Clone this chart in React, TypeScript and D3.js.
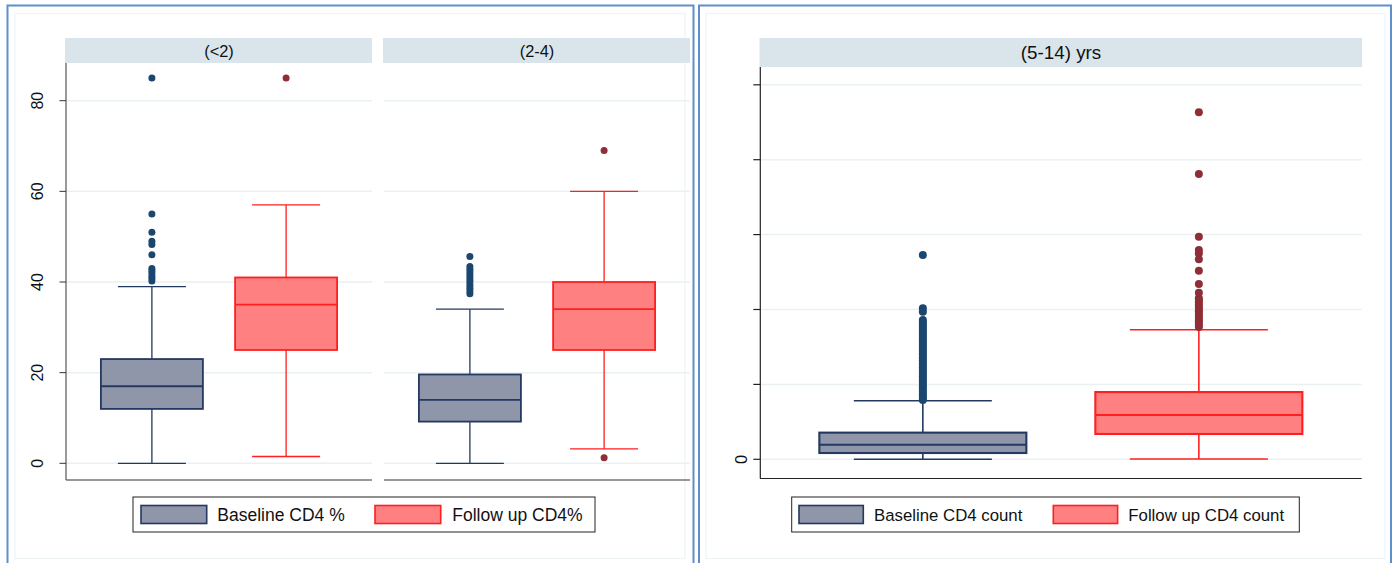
import React from "react";
import * as d3 from "d3";

// CD4 % panel, two age facets
const facetsLeft = ["(<2)", "(2-4)"];
const seriesLeft = ["Baseline CD4 %", "Follow up CD4%"];
const pctTicks = [0, 20, 40, 60, 80];

// [lower whisker, q1, median, q3, upper whisker]
const lt2Baseline = [0, 12, 17, 23, 39];
const lt2BaselineOut = [85, 55, 51, 49, 48.3, 46, 43, 42.5, 42, 41.3, 40.8, 40.2];
const lt2Follow = [1.5, 25, 35, 41, 57];
const lt2FollowOut = [85];

const b24Baseline = [0, 9.2, 14, 19.6, 34];
const b24BaselineOut = [45.6, 43.4, 42.8, 42.2, 41.6, 41, 40.4, 39.8, 39.2, 38.6, 38, 37.4];
const b24Follow = [3.2, 25, 34, 40, 60];
const b24FollowOut = [69, 1.2];

// CD4 count panel, (5-14) yrs
const facetRight = "(5-14) yrs";
const seriesRight = ["Baseline CD4 count", "Follow up CD4 count"];
const countTicks = [0, 500, 1000, 1500, 2000, 2500];
const countTickLabels = ["0", "", "", "", "", ""];

const oldBaseline = [0, 42, 97, 178, 391];
const oldBaselineOut = [
  1364, 1008, 985, 930, 915, 900, 885, 870, 855, 840, 825, 810, 795, 780, 765, 750, 735,
  720, 705, 690, 675, 660, 645, 630, 615, 600, 585, 570, 555, 540, 525, 510, 495, 480,
  465, 450, 435, 420, 405, 396,
];
const oldFollow = [2, 169, 296, 449, 865];
const oldFollowOut = [
  2317, 1904, 1486, 1397, 1375, 1335, 1259, 1170, 1112, 1075, 1063, 1048, 1033, 1018,
  1003, 988, 973, 958, 943, 928, 913, 898, 884,
];

const FONT = "'Liberation Sans', Arial, sans-serif";
const baseStyle = { fill: "#9096a9", stroke: "#23395f", dot: "#1b4670" };
const followStyle = { fill: "#ff8080", stroke: "#ff1f1f", dot: "#8e2f38" };

function Box({ cx, bw, stats, out, y, st, r, sw }) {
  const [lo, q1, med, q3, hi] = stats;
  const cap = (bw * 2) / 3;
  return (
    <g>
      <line x1={cx} x2={cx} y1={y(hi)} y2={y(q3)} stroke={st.stroke} strokeWidth={sw} />
      <line x1={cx} x2={cx} y1={y(q1)} y2={y(lo)} stroke={st.stroke} strokeWidth={sw} />
      <line x1={cx - cap / 2} x2={cx + cap / 2} y1={y(hi)} y2={y(hi)} stroke={st.stroke} strokeWidth={sw} />
      <line x1={cx - cap / 2} x2={cx + cap / 2} y1={y(lo)} y2={y(lo)} stroke={st.stroke} strokeWidth={sw} />
      <rect
        x={cx - bw / 2}
        y={y(q3)}
        width={bw}
        height={y(q1) - y(q3)}
        fill={st.fill}
        stroke={st.stroke}
        strokeWidth={sw + 0.5}
      />
      <line x1={cx - bw / 2} x2={cx + bw / 2} y1={y(med)} y2={y(med)} stroke={st.stroke} strokeWidth={sw + 0.5} />
      {out.map((v, i) => (
        <circle key={i} cx={cx} cy={y(v)} r={r} fill={st.dot} />
      ))}
    </g>
  );
}

function Legend({ x, y, w, h, items, swW, fs }) {
  // items: [label, style, swatchX, textX]
  return (
    <g>
      <rect x={x} y={y} width={w} height={h} fill="#fff" stroke="#222" strokeWidth={1} />
      {items.map(([label, st, sx, tx]) => (
        <g key={label}>
          <rect x={sx} y={y + 8.5} width={swW} height={h - 17} fill={st.fill} stroke={st.stroke} strokeWidth={1.6} />
          <text x={tx} y={y + h / 2 + fs * 0.36} fontSize={fs} fill="#111">
            {label}
          </text>
        </g>
      ))}
    </g>
  );
}

export default function App() {
  // left panel
  const yL = d3.scaleLinear().domain([0, 80]).range([463.3, 100.7]);
  const facetRanges = [
    [66, 372],
    [384, 690],
  ];
  const facetData = [
    [lt2Baseline, lt2BaselineOut, lt2Follow, lt2FollowOut],
    [b24Baseline, b24BaselineOut, b24Follow, b24FollowOut],
  ];

  // right panel
  const yR = d3.scaleLinear().domain([0, 2500]).range([459.3, 84.8]);
  const xR = d3.scaleBand().domain(seriesRight).range([760, 1361.7]).paddingInner(0.25).paddingOuter(0.215);

  return (
    <svg
      width={1394}
      height={563}
      style={{ position: "absolute", left: 0, top: 0, background: "#fff", fontFamily: FONT }}
    >
      {/* panel frames */}
      <rect x={15} y={13.5} width={670} height={545} fill="none" stroke="#eef3f6" strokeWidth={1.2} />
      <rect x={706} y={13.5} width={679} height={545} fill="none" stroke="#eef3f6" strokeWidth={1.2} />
      <path d="M7.5,570 V5.5 H693.5 V570" fill="none" stroke="#5f8fcb" strokeWidth={2} />
      <path d="M699,570 V5.5 H1391 V570" fill="none" stroke="#5f8fcb" strokeWidth={2} />

      {/* left panel facets */}
      {facetsLeft.map((f, fi) => {
        const [x0, x1] = facetRanges[fi];
        const xb = d3.scaleBand().domain(seriesLeft).range([x0, x1]).paddingInner(0.24).paddingOuter(0.26);
        const bw = xb.bandwidth();
        const [bs, bo, fs, fo] = facetData[fi];
        return (
          <g key={f}>
            <rect x={x0 - 1} y={38} width={x1 - x0 + 1} height={25} fill="#d9e5eb" />
            <text x={(x0 + x1) / 2} y={56.5} fontSize={16.4} textAnchor="middle" fill="#111">
              {f}
            </text>
            {pctTicks.map((t) => (
              <line key={t} x1={x0} x2={x1} y1={yL(t)} y2={yL(t)} stroke="#e9f1f3" strokeWidth={1.5} />
            ))}
            <line x1={x0} x2={x1} y1={480} y2={480} stroke="#333" strokeWidth={1.2} />
            <Box cx={xb(seriesLeft[0]) + bw / 2} bw={bw} stats={bs} out={bo} y={yL} st={baseStyle} r={3.5} sw={1.3} />
            <Box cx={xb(seriesLeft[1]) + bw / 2} bw={bw} stats={fs} out={fo} y={yL} st={followStyle} r={3.5} sw={1.3} />
          </g>
        );
      })}
      <line x1={66} x2={66} y1={63} y2={480} stroke="#555" strokeWidth={1.2} />
      {pctTicks.map((t) => (
        <g key={t}>
          <line x1={59.5} x2={66} y1={yL(t)} y2={yL(t)} stroke="#333" strokeWidth={1} />
          <text
            transform={`translate(37,${yL(t)}) rotate(-90)`}
            textAnchor="middle"
            dominantBaseline="central"
            fontSize={16}
            fill="#111"
          >
            {t}
          </text>
        </g>
      ))}
      <Legend
        x={133}
        y={497}
        w={462}
        h={35}
        swW={65.7}
        fs={17.5}
        items={[
          [seriesLeft[0], baseStyle, 141, 217.3],
          [seriesLeft[1], followStyle, 375, 452.3],
        ]}
      />

      {/* right panel */}
      <rect x={759.5} y={38} width={602.5} height={29} fill="#d9e5eb" />
      <text x={1061} y={59} fontSize={18.8} textAnchor="middle" fill="#111">
        {facetRight}
      </text>
      {countTicks.map((t, i) => (
        <g key={t}>
          <line x1={760} x2={1361.7} y1={yR(t)} y2={yR(t)} stroke="#e9f1f3" strokeWidth={1.5} />
          <line x1={753.3} x2={760} y1={yR(t)} y2={yR(t)} stroke="#222" strokeWidth={1.2} />
          {countTickLabels[i] && (
            <text
              transform={`translate(741,${yR(t)}) rotate(-90)`}
              textAnchor="middle"
              dominantBaseline="central"
              fontSize={16.5}
              fill="#111"
            >
              {countTickLabels[i]}
            </text>
          )}
        </g>
      ))}
      <line x1={760.3} x2={760.3} y1={67} y2={478.5} stroke="#222" strokeWidth={1.2} />
      <line x1={760} x2={1361.7} y1={478.5} y2={478.5} stroke="#222" strokeWidth={1.2} />
      <Box
        cx={xR(seriesRight[0]) + xR.bandwidth() / 2}
        bw={xR.bandwidth()}
        stats={oldBaseline}
        out={oldBaselineOut}
        y={yR}
        st={baseStyle}
        r={4}
        sw={1.6}
      />
      <Box
        cx={xR(seriesRight[1]) + xR.bandwidth() / 2}
        bw={xR.bandwidth()}
        stats={oldFollow}
        out={oldFollowOut}
        y={yR}
        st={followStyle}
        r={4}
        sw={1.6}
      />
      <Legend
        x={791.7}
        y={497}
        w={507.6}
        h={35}
        swW={64.3}
        fs={16.8}
        items={[
          [seriesRight[0], baseStyle, 799, 874],
          [seriesRight[1], followStyle, 1053.3, 1128.3],
        ]}
      />
    </svg>
  );
}
